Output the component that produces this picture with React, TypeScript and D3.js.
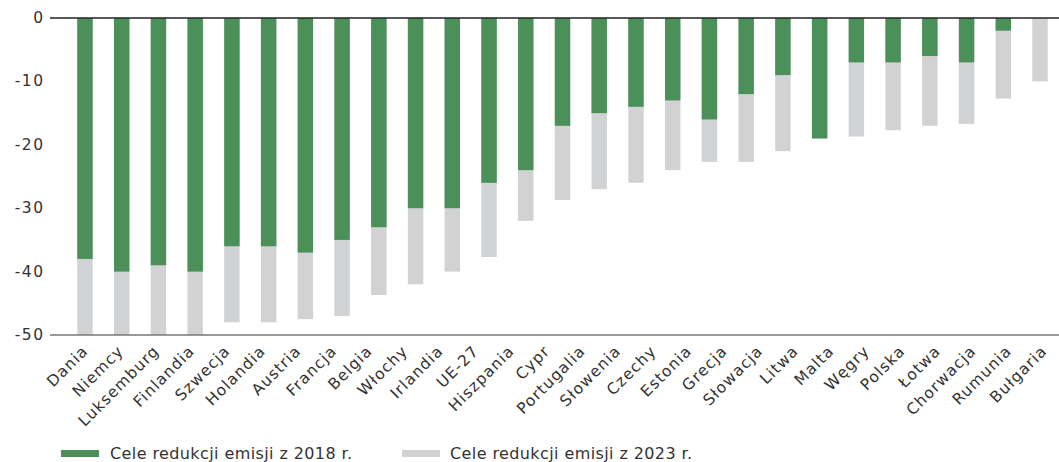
import React from "react";
import * as d3 from "d3";

const categories = [
  "Dania", "Niemcy", "Luksemburg", "Finlandia", "Szwecja", "Holandia", "Austria",
  "Francja", "Belgia", "Włochy", "Irlandia", "UE-27", "Hiszpania", "Cypr",
  "Portugalia", "Słowenia", "Czechy", "Estonia", "Grecja", "Słowacja", "Litwa",
  "Malta", "Węgry", "Polska", "Łotwa", "Chorwacja", "Rumunia", "Bułgaria",
];

// Cele redukcji emisji z 2018 r. (null = no bar drawn in the picture)
const target2018: (number | null)[] = [
  -38, -40, -39, -40, null, -36, -36, -37, -35, -33, -30, -30, -26, -24,
  -17, -15, -14, -13, -16, -12, -9, -19, -7, -7, -6, -7, -2, 0,
];

// Cele redukcji emisji z 2023 r.
const target2023: (number | null)[] = [
  -50, -50, -50, -50, null, -48, -48, -47.5, -47, -43.7, -42, -40, -37.7, -32,
  -28.7, -27, -26, -24, -22.7, -22.7, -21, -19, -18.7, -17.7, -17, -16.7, -12.7, -10,
];

const yTicks = [0, -10, -20, -30, -40, -50];

const seriesNames = ["Cele redukcji emisji z 2018 r.", "Cele redukcji emisji z 2023 r."];
const GREEN = "#4b8f59";
const GREY = "#d1d2d4";
const FONT = "'DejaVu Sans', sans-serif";

export default function App() {
  const W = 1059;
  const H = 462;

  const barCats = categories.filter((_, i) => target2018[i] !== null);
  const xBar = d3
    .scaleBand<string>()
    .domain(barCats)
    .range([66.6, 1058.4])
    .paddingInner(0.58)
    .paddingOuter(0.29);
  const xLabel = d3.scalePoint<string>().domain(categories).range([89, 1048]);
  const y = d3.scaleLinear().domain([0, -50]).range([18, 335]);

  const rows = categories
    .map((c, i) => ({ c, a: target2018[i], b: target2023[i] }))
    .filter((r) => r.a !== null);

  return (
    <svg
      width={W}
      height={H}
      style={{ position: "absolute", left: 0, top: 0, background: "#fff" }}
      fontFamily={FONT}
    >
      {rows.map((r) => (
        <rect
          key={"g" + r.c}
          x={xBar(r.c)}
          width={xBar.bandwidth()}
          y={y(0)}
          height={y(r.b as number) - y(0)}
          fill={GREY}
        />
      ))}
      {rows.map((r) => (
        <rect
          key={"e" + r.c}
          x={xBar(r.c)}
          width={xBar.bandwidth()}
          y={y(0)}
          height={y(r.a as number) - y(0)}
          fill={GREEN}
        />
      ))}
      <line x1={50} x2={W} y1={y(0)} y2={y(0)} stroke="#222" strokeWidth={1.5} />
      <line x1={50} x2={W} y1={y(-50)} y2={y(-50)} stroke="#777" strokeWidth={1.5} />
      {yTicks.map((t) => (
        <text
          key={t}
          x={44.5}
          y={y(t)}
          textAnchor="end"
          dominantBaseline="central"
          fontSize={15.5}
          letterSpacing={1.5}
          fill="#333"
        >
          {t}
        </text>
      ))}
      {categories.map((c) => (
        <text
          key={c}
          transform={`translate(${xLabel(c)},352) rotate(-45)`}
          textAnchor="end"
          fontSize={15.5}
          letterSpacing={1.1}
          fill="#333"
        >
          {c}
        </text>
      ))}
      <g transform="translate(61,450)">
        <rect width={38} height={7} fill={GREEN} />
        <text x={49} y={9} fontSize={16} letterSpacing={0.4} fill="#333">
          {seriesNames[0]}
        </text>
      </g>
      <g transform="translate(402,450)">
        <rect width={38} height={7} fill={GREY} />
        <text x={48} y={9} fontSize={16} letterSpacing={0.4} fill="#333">
          {seriesNames[1]}
        </text>
      </g>
    </svg>
  );
}
